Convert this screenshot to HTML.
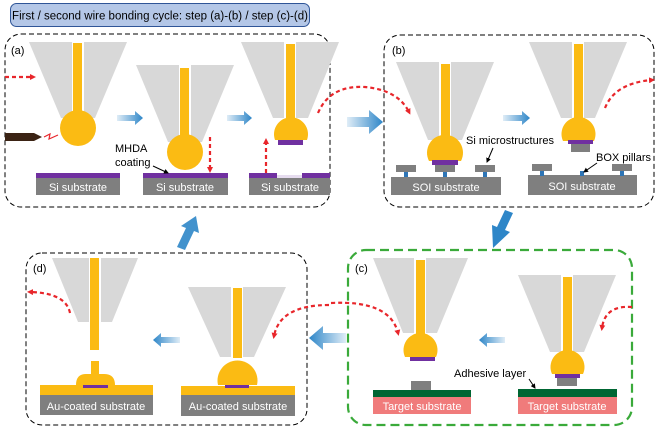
<!DOCTYPE html>
<html><head><meta charset="utf-8"><style>
html,body{margin:0;padding:0;background:#fff}
svg{display:block;font-family:"Liberation Sans",Arial,sans-serif}
</style></head><body>
<svg width="658" height="431" viewBox="0 0 658 431" xmlns="http://www.w3.org/2000/svg">
<defs>
<linearGradient id="bg" x1="0" x2="1"><stop offset="0" stop-color="#2e86c8" stop-opacity="0.15"/><stop offset="1" stop-color="#2e86c8"/></linearGradient>
<linearGradient id="bgl" x1="1" x2="0"><stop offset="0" stop-color="#2e86c8" stop-opacity="0.15"/><stop offset="1" stop-color="#2e86c8"/></linearGradient>
<marker id="rh" markerWidth="6" markerHeight="6" refX="3" refY="3" orient="auto" markerUnits="userSpaceOnUse"><path d="M0,0 L6,3 L0,6 Z" fill="#e8262b"/></marker>
<marker id="ka" markerWidth="5" markerHeight="5" refX="4" refY="2.5" orient="auto" markerUnits="userSpaceOnUse"><path d="M0,0 L5,2.5 L0,5 Z" fill="#000"/></marker>
</defs>

<!-- title -->
<rect x="10.5" y="3.5" width="299" height="23" rx="6" fill="#b4c7e7" stroke="#2f5597"/>
<text x="160" y="19.5" font-size="11.5" text-anchor="middle" fill="#000">First / second wire bonding cycle: step (a)-(b) / step (c)-(d)</text>

<!-- panels -->
<rect x="5" y="34" width="325" height="173" rx="16" fill="none" stroke="#000" stroke-dasharray="5,3"/>
<rect x="384" y="35" width="270" height="172" rx="16" fill="none" stroke="#000" stroke-dasharray="5,3"/>
<rect x="348" y="250" width="284" height="175" rx="18" fill="none" stroke="#3aaa3a" stroke-width="2.2" stroke-dasharray="9,5"/>
<rect x="26" y="253" width="281" height="172" rx="16" fill="none" stroke="#000" stroke-dasharray="5,3"/>
<text x="11" y="54" font-size="11">(a)</text>
<text x="392" y="54" font-size="11">(b)</text>
<text x="355" y="272" font-size="11">(c)</text>
<text x="33" y="272" font-size="11">(d)</text>

<!-- tools: gray trapezoids -->
<g fill="#d8d8d8">
<path d="M29,42 H72 V118 H61 Z"/><path d="M84,42 H127 L95,118 H84 Z"/>
<path d="M136,65 H179 V142 H168 Z"/><path d="M191,65 H234 L202,142 H191 Z"/>
<path d="M241,42 H284 V118 H273 Z"/><path d="M296,42 H339 L308,118 H296 Z"/>
<path d="M396,62 H439 V140 H428 Z"/><path d="M451,62 H494 L462,140 H451 Z"/>
<path d="M529,42 H572 V118 H561 Z"/><path d="M584,42 H627 L595,118 H584 Z"/>
<path d="M373,258 H414 V333 H403 Z"/><path d="M426,258 H468 L437,333 H426 Z"/>
<path d="M518,275 H561 V352 H550 Z"/><path d="M573,275 H616 L584,352 H573 Z"/>
<path d="M52,258 H89 V322 H78 Z"/><path d="M101,258 H138 L112,322 H101 Z"/>
<path d="M188,287 H231 V357 H220 Z"/><path d="M243,287 H286 L254,357 H243 Z"/>
</g>

<!-- wires & balls -->
<g fill="#fbbb13">
<rect x="73" y="43" width="9" height="80"/><circle cx="78" cy="128" r="18"/>
<rect x="180" y="68" width="9" height="80"/><circle cx="185" cy="152" r="18"/>
<rect x="286" y="44" width="9" height="80"/><path d="M275,140 A17,17 0 1 1 307,140 Z"/>
<rect x="441" y="64" width="9" height="80"/><path d="M429,161 A18,18 0 1 1 461,161 Z"/>
<rect x="574" y="44" width="9" height="80"/><path d="M563,141 A17,17 0 1 1 594,141 Z"/>
<rect x="416" y="260" width="9" height="80"/><path d="M405,357 A17,17 0 1 1 436,357 Z"/>
<rect x="563" y="277" width="9" height="80"/><path d="M552,374 A17,17 0 1 1 583,374 Z"/>
<rect x="90" y="258" width="9" height="92"/>
<rect x="91" y="361" width="8" height="14"/><path d="M76,385 Q76,374 86,374 H104 Q115,374 115,385 Z"/>
<rect x="233" y="288" width="9" height="70"/><path d="M218,385 A20,20 0 1 1 257,385 Z"/>
<rect x="40" y="385" width="113" height="10"/>
<rect x="181" y="386" width="114" height="9"/>
</g>

<!-- purple pads -->
<g fill="#7030a0">
<rect x="278" y="140" width="25" height="5"/>
<rect x="432" y="160" width="26" height="5"/>
<rect x="568" y="140" width="25" height="4"/>
<rect x="410" y="357" width="25" height="4"/>
<rect x="555" y="374" width="25" height="4"/>
<rect x="83" y="385" width="25" height="3"/>
<rect x="225" y="385" width="24" height="3"/>
<rect x="36" y="173" width="84" height="5"/>
<rect x="143" y="173" width="85" height="5"/>
<rect x="249" y="173" width="28" height="5"/><rect x="302" y="173" width="28" height="5"/>
</g>
<rect x="277" y="175" width="25" height="3" fill="#e6dcef"/>

<!-- substrates -->
<g fill="#7f7f7f">
<rect x="36" y="178" width="84" height="17"/>
<rect x="143" y="178" width="85" height="17"/>
<rect x="249" y="178" width="81" height="17"/>
<rect x="391" y="177" width="110" height="18"/>
<rect x="528" y="175" width="109" height="20"/>
<rect x="396" y="165" width="20" height="7"/><rect x="435" y="165" width="20" height="7"/><rect x="475" y="165" width="20" height="7"/>
<rect x="532" y="164" width="20" height="7"/><rect x="612" y="164" width="20" height="7"/>
<rect x="571" y="144" width="19" height="8"/>
<rect x="411" y="381" width="20" height="9"/>
<rect x="557" y="378" width="20" height="8"/>
<rect x="40" y="395" width="113" height="20"/>
<rect x="181" y="395" width="114" height="21"/>
</g>
<g fill="#2e75b6">
<rect x="404" y="172" width="4" height="5"/><rect x="443" y="172" width="4" height="5"/><rect x="483" y="172" width="4" height="5"/>
<rect x="540" y="171" width="4" height="5"/><rect x="580" y="171" width="4" height="5"/><rect x="620" y="171" width="4" height="5"/>
</g>
<rect x="373" y="390" width="98" height="7" fill="#006633"/><rect x="373" y="397" width="98" height="17" fill="#f07b7b"/>
<rect x="518" y="389" width="99" height="8" fill="#006633"/><rect x="518" y="397" width="99" height="17" fill="#f07b7b"/>

<g fill="#fff" font-size="11" text-anchor="middle">
<text x="78" y="191">Si substrate</text><text x="185" y="191">Si substrate</text><text x="290" y="191">Si substrate</text>
<text x="446" y="191">SOI substrate</text><text x="582" y="190">SOI substrate</text>
<text x="422" y="410">Target substrate</text><text x="567" y="410">Target substrate</text>
<text x="96" y="410">Au-coated substrate</text><text x="238" y="410">Au-coated substrate</text>
</g>

<!-- labels -->
<g font-size="11" fill="#000">
<text x="115" y="152">MHDA</text><text x="115" y="166">coating</text>
<text x="466" y="144">Si microstructures</text>
<text x="596" y="161">BOX pillars</text>
<text x="454" y="377">Adhesive layer</text>
</g>
<g stroke="#000" stroke-width="1" marker-end="url(#ka)">
<line x1="153" y1="166" x2="168" y2="173"/>
<line x1="493" y1="148" x2="487" y2="162"/>
<line x1="597" y1="163" x2="584" y2="172"/>
<line x1="529" y1="379" x2="535" y2="388"/>
</g>

<!-- electrode -->
<path d="M5,133 H34 L42,137 L34,141 H5 Z" fill="#3b2314"/>
<path d="M44,137 L50,134 L49,139 L58,135" stroke="#e8262b" stroke-width="1.2" fill="none"/>

<!-- red dashed arrows -->
<g stroke="#e8262b" stroke-width="2.2" fill="none" stroke-dasharray="4,3" marker-end="url(#rh)">
<line x1="5" y1="77" x2="33" y2="77"/>
<line x1="210" y1="137" x2="210" y2="170"/>
<line x1="266" y1="173" x2="266" y2="141"/>
<path d="M318,113 Q330,85 365,87 Q398,90 409,112"/>
<path d="M605,108 Q615,83 652,80"/>
<path d="M632,307 Q605,305 602,328"/>
<path d="M331,303 Q390,300 398,333"/>
<path d="M329,305 Q280,305 274,336"/>
<path d="M70,313 Q66,293 30,292"/>
</g>

<!-- blue arrows -->
<g>
<path d="M117,115 H135 V111 L143,118 L135,125 V121 H117 Z" fill="url(#bg)"/>
<path d="M227,115 H244 V111 L252,118 L244,125 V121 H227 Z" fill="url(#bg)"/>
<path d="M503,115 H522 V111 L530,118 L522,125 V121 H503 Z" fill="url(#bg)"/>
<path d="M347,117 H369 V110 L383,122 L369,134 V127 H347 Z" fill="url(#bg)"/>
<path d="M505,337 H487 V333 L479,340 L487,347 V343 H505 Z" fill="url(#bgl)"/>
<path d="M180,337 H161 V333 L153,340 L161,347 V343 H180 Z" fill="url(#bgl)"/>
<path d="M346,333 H323 V326 L309,338 L323,350 V343 H346 Z" fill="url(#bgl)"/>
<path d="M513,213 L505,230 L510,232 L493,248 L492,225 L497,227 L505,210 Z" fill="#2e86c8"/>
<path d="M177,247 L186,228 L181,226 L196,216 L199,233 L194,231 L185,250 Z" fill="#2e86c8" opacity="0.9"/>
</g>
</svg>
</body></html>
